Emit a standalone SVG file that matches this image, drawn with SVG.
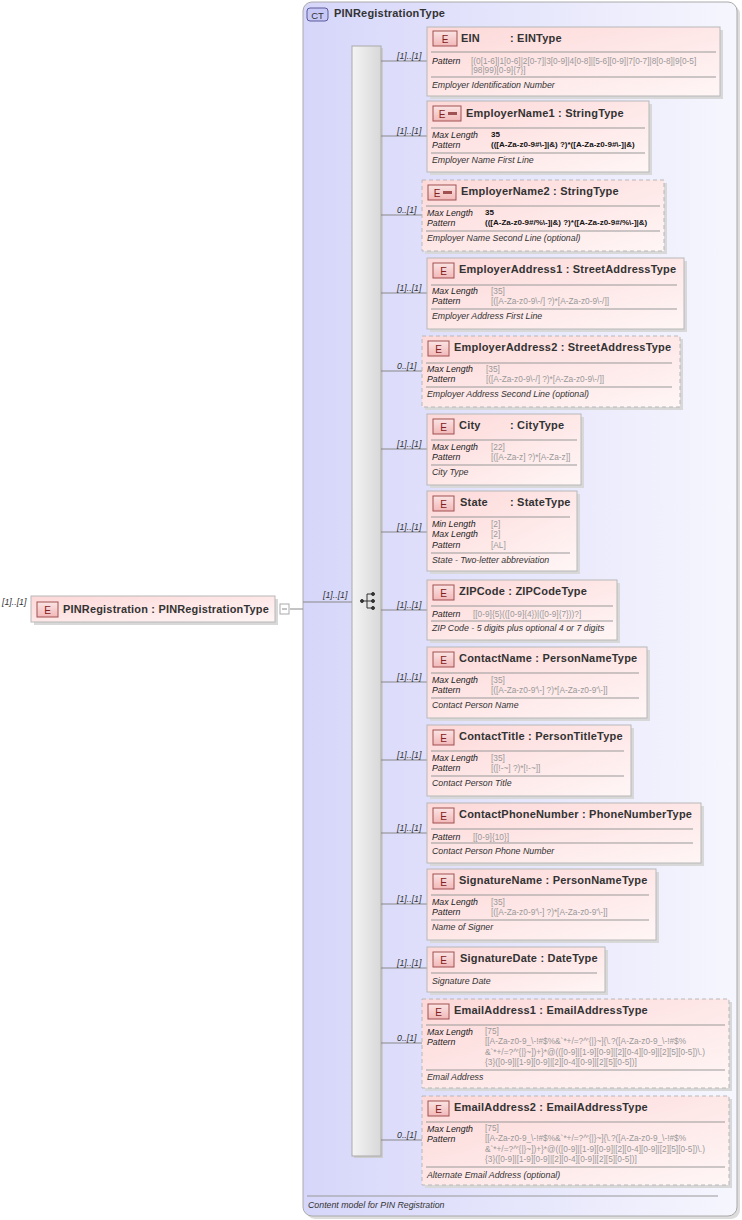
<svg xmlns="http://www.w3.org/2000/svg" width="742" height="1220" viewBox="0 0 742 1220">
<defs>
<linearGradient id="ct" x1="0" x2="1" y1="0" y2="0"><stop offset="0" stop-color="#d6d6fa"/><stop offset="1" stop-color="#f6f6fe"/></linearGradient>
<linearGradient id="el" x1="0" x2="1" y1="0" y2="1"><stop offset="0" stop-color="#fdd8d8"/><stop offset="1" stop-color="#fff6f6"/></linearGradient>
<linearGradient id="bar" x1="0" x2="1"><stop offset="0" stop-color="#f4f4f4"/><stop offset="1" stop-color="#d8d8d8"/></linearGradient>
<linearGradient id="bd" x1="0" x2="0" y1="0" y2="1"><stop offset="0" stop-color="#fbe4e4"/><stop offset="1" stop-color="#f2b8b8"/></linearGradient>
</defs>
<style>
text{font-family:"Liberation Sans",Arial,sans-serif}
.box{fill:url(#el);stroke:#b8b8b8;stroke-width:1}
.dash{stroke-dasharray:4,3}
.sh{fill:#d8d8d8}
.badge{fill:url(#bd);stroke:#a05050;stroke-width:1}
.bt{font-size:10px;fill:#802020;text-anchor:middle}
.t{font-size:11px;font-weight:bold;fill:#333;letter-spacing:0.2px}
.sep{stroke:#999;stroke-width:1}
.lb{font-size:8.8px;font-style:italic;fill:#222}
.v{font-size:8.3px;fill:#999}
.vb{font-size:8px;fill:#111;font-weight:bold}
.d{font-size:8.8px;font-style:italic;fill:#333}
.m{font-size:8.8px;font-style:italic;fill:#333}
.cn{stroke:#888;stroke-width:1;fill:none}
</style>
<g id="ct-PINRegistrationType">
<rect x="306" y="5" width="434" height="1214" rx="9" fill="#ddd"/>
<rect x="303" y="2" width="434" height="1214" rx="9" fill="url(#ct)" stroke="#aaa"/>
<rect x="307" y="8" width="21" height="13" rx="3" fill="#c8c8f6" stroke="#5a5a9a"/>
<text x="317.5" y="18.5" font-size="9.5" fill="#333" text-anchor="middle">CT</text>
<text x="334" y="17" class="t">PINRegistrationType</text>
<line x1="307" y1="1196" x2="718" y2="1196" class="sep"/>
<text x="308" y="1208" class="d">Content model for PIN Registration</text>
</g>
<g id="sequence">
<rect x="354" y="48" width="29" height="1110" fill="#ccc"/>
<rect x="352" y="46" width="29" height="1110" fill="url(#bar)" stroke="#aaa"/>
<g fill="#333" stroke="#333" stroke-width="1">
<circle cx="362" cy="601" r="1.5"/><line x1="362" y1="601" x2="367" y2="601"/>
<line x1="367" y1="594" x2="367" y2="608"/><line x1="367" y1="594" x2="372" y2="594"/><line x1="367" y1="601" x2="372" y2="601"/><line x1="367" y1="608" x2="372" y2="608"/>
<circle cx="373" cy="594" r="1.5"/><circle cx="373" cy="601" r="1.5"/><circle cx="373" cy="608" r="1.5"/>
</g>
</g>
<g id="connectors">
<path class="cn" d="M290 609H303M303 602H352"/>
<text x="323" y="598" class="m">[1]..[1]</text>
<path class="cn" d="M381 61H427M381 136H427M381 215H422M381 293H427M381 371H422M381 449H427M381 532H427M381 610H427M381 682H427M381 760H427M381 833H427M381 904H427M381 968H427M381 1043H422M381 1140H422"/>
<g class="m">
<text x="397" y="59">[1]..[1]</text><text x="397" y="134">[1]..[1]</text><text x="397" y="213">0..[1]</text>
<text x="397" y="291">[1]..[1]</text><text x="397" y="369">0..[1]</text><text x="397" y="447">[1]..[1]</text>
<text x="397" y="530">[1]..[1]</text><text x="397" y="608">[1]..[1]</text><text x="397" y="680">[1]..[1]</text>
<text x="397" y="758">[1]..[1]</text><text x="397" y="831">[1]..[1]</text><text x="397" y="902">[1]..[1]</text>
<text x="397" y="966">[1]..[1]</text><text x="397" y="1041">0..[1]</text><text x="397" y="1138">0..[1]</text>
</g>
</g>
<g id="PINRegistration">
<text x="2" y="605" class="m">[1]..[1]</text>
<rect x="34" y="599" width="244" height="26" class="sh"/>
<rect x="31" y="596" width="244" height="26" class="box"/>
<rect x="37" y="602" width="21" height="15" class="badge"/><text x="47.5" y="613.5" class="bt">E</text>
<text x="63" y="613" class="t" textLength="206" lengthAdjust="spacingAndGlyphs">PINRegistration : PINRegistrationType</text>
<rect x="280" y="604" width="9" height="10" fill="#fff" stroke="#aaa"/><line x1="282" y1="609" x2="287" y2="609" stroke="#888"/>
</g>
<g id="EIN">
<rect x="430" y="30" width="293" height="69" class="sh"/><rect x="427" y="27" width="293" height="69" class="box"/>
<rect x="433" y="31" width="24" height="15" class="badge"/><text x="445" y="42.5" class="bt">E</text>
<text x="461" y="42" class="t">EIN</text><text x="510" y="42" class="t">: EINType</text>
<line x1="431" y1="52" x2="716" y2="52" class="sep"/>
<text x="432" y="64" class="lb">Pattern</text>
<text x="471" y="64" class="v">[(0[1-6]|1[0-6]|2[0-7]|3[0-9]|4[0-8]|[5-6][0-9]|7[0-7]|8[0-8]|9[0-5]</text>
<text x="471" y="73" class="v">|98|99)[0-9]{7}]</text>
<line x1="431" y1="77" x2="716" y2="77" class="sep"/>
<text x="432" y="88" class="d">Employer Identification Number</text>
</g>
<g id="EmployerName1">
<rect x="430" y="104" width="222" height="71" class="sh"/><rect x="427" y="101" width="222" height="71" class="box"/>
<rect x="433" y="106" width="28" height="15" class="badge"/><text x="442" y="117.5" class="bt">E</text><rect x="448" y="112" width="9" height="3" fill="#a05050"/>
<text x="466" y="117" class="t">EmployerName1 : StringType</text>
<line x1="431" y1="128" x2="645" y2="128" class="sep"/>
<text x="432" y="138" class="lb">Max Length</text><text x="491" y="137" class="vb">35</text>
<text x="432" y="148" class="lb">Pattern</text><text x="491" y="147" class="vb">(([A-Za-z0-9#\-]|&amp;) ?)*([A-Za-z0-9#\-]|&amp;)</text>
<line x1="431" y1="153" x2="645" y2="153" class="sep"/>
<text x="432" y="163" class="d">Employer Name First Line</text>
</g>
<g id="EmployerName2">
<rect x="425" y="183" width="242" height="71" class="sh"/><rect x="422" y="180" width="242" height="71" class="box dash"/>
<rect x="428" y="185" width="28" height="15" class="badge"/><text x="437" y="196.5" class="bt">E</text><rect x="443" y="191" width="9" height="3" fill="#a05050"/>
<text x="461" y="195" class="t">EmployerName2 : StringType</text>
<line x1="426" y1="206" x2="660" y2="206" class="sep"/>
<text x="427" y="216" class="lb">Max Length</text><text x="485" y="215" class="vb">35</text>
<text x="427" y="226" class="lb">Pattern</text><text x="485" y="225" class="vb">(([A-Za-z0-9#/%\-]|&amp;) ?)*([A-Za-z0-9#/%\-]|&amp;)</text>
<line x1="426" y1="231" x2="660" y2="231" class="sep"/>
<text x="427" y="241" class="d">Employer Name Second Line (optional)</text>
</g>
<g id="EmployerAddress1">
<rect x="430" y="261" width="257" height="71" class="sh"/><rect x="427" y="258" width="257" height="71" class="box"/>
<rect x="433" y="263" width="21" height="15" class="badge"/><text x="443.5" y="274.5" class="bt">E</text>
<text x="459" y="273" class="t">EmployerAddress1 : StreetAddressType</text>
<line x1="431" y1="285" x2="677" y2="285" class="sep"/>
<text x="432" y="294" class="lb">Max Length</text><text x="491" y="294" class="v">[35]</text>
<text x="432" y="304" class="lb">Pattern</text><text x="491" y="304" class="v">[([A-Za-z0-9\-/] ?)*[A-Za-z0-9\-/]]</text>
<line x1="431" y1="309" x2="677" y2="309" class="sep"/>
<text x="432" y="319" class="d">Employer Address First Line</text>
</g>
<g id="EmployerAddress2">
<rect x="425" y="339" width="258" height="71" class="sh"/><rect x="422" y="336" width="258" height="71" class="box dash"/>
<rect x="428" y="341" width="21" height="15" class="badge"/><text x="438.5" y="352.5" class="bt">E</text>
<text x="454" y="351" class="t">EmployerAddress2 : StreetAddressType</text>
<line x1="426" y1="363" x2="672" y2="363" class="sep"/>
<text x="427" y="372" class="lb">Max Length</text><text x="486" y="372" class="v">[35]</text>
<text x="427" y="382" class="lb">Pattern</text><text x="486" y="382" class="v">[([A-Za-z0-9\-/] ?)*[A-Za-z0-9\-/]]</text>
<line x1="426" y1="387" x2="672" y2="387" class="sep"/>
<text x="427" y="397" class="d">Employer Address Second Line (optional)</text>
</g>
<g id="City">
<rect x="430" y="417" width="154" height="71" class="sh"/><rect x="427" y="414" width="154" height="71" class="box"/>
<rect x="433" y="419" width="21" height="15" class="badge"/><text x="443.5" y="430.5" class="bt">E</text>
<text x="459" y="429" class="t">City</text><text x="510" y="429" class="t">: CityType</text>
<line x1="431" y1="440" x2="577" y2="440" class="sep"/>
<text x="432" y="450" class="lb">Max Length</text><text x="491" y="450" class="v">[22]</text>
<text x="432" y="460" class="lb">Pattern</text><text x="491" y="460" class="v">[([A-Za-z] ?)*[A-Za-z]]</text>
<line x1="431" y1="465" x2="577" y2="465" class="sep"/>
<text x="432" y="475" class="d">City Type</text>
</g>
<g id="State">
<rect x="430" y="494" width="150" height="80" class="sh"/><rect x="427" y="491" width="150" height="80" class="box"/>
<rect x="433" y="496" width="21" height="15" class="badge"/><text x="443.5" y="507.5" class="bt">E</text>
<text x="460" y="506" class="t">State</text><text x="510" y="506" class="t">: StateType</text>
<line x1="431" y1="517" x2="570" y2="517" class="sep"/>
<text x="432" y="527" class="lb">Min Length</text><text x="491" y="527" class="v">[2]</text>
<text x="432" y="537" class="lb">Max Length</text><text x="491" y="537" class="v">[2]</text>
<text x="432" y="548" class="lb">Pattern</text><text x="491" y="548" class="v">[AL]</text>
<line x1="431" y1="553" x2="570" y2="553" class="sep"/>
<text x="432" y="563" class="d">State - Two-letter abbreviation</text>
</g>
<g id="ZIPCode">
<rect x="430" y="583" width="190" height="60" class="sh"/><rect x="427" y="580" width="190" height="60" class="box"/>
<rect x="433" y="585" width="21" height="15" class="badge"/><text x="443.5" y="596.5" class="bt">E</text>
<text x="459" y="595" class="t">ZIPCode : ZIPCodeType</text>
<line x1="431" y1="606" x2="613" y2="606" class="sep"/>
<text x="432" y="617" class="lb">Pattern</text><text x="473" y="617" class="v">[[0-9]{5}(([0-9]{4})|([0-9]{7}))?]</text>
<line x1="431" y1="621" x2="613" y2="621" class="sep"/>
<text x="432" y="631" class="d">ZIP Code - 5 digits plus optional 4 or 7 digits</text>
</g>
<g id="ContactName">
<rect x="430" y="650" width="220" height="71" class="sh"/><rect x="427" y="647" width="220" height="71" class="box"/>
<rect x="433" y="652" width="21" height="15" class="badge"/><text x="443.5" y="663.5" class="bt">E</text>
<text x="459" y="662" class="t">ContactName : PersonNameType</text>
<line x1="431" y1="673" x2="639" y2="673" class="sep"/>
<text x="432" y="683" class="lb">Max Length</text><text x="491" y="683" class="v">[35]</text>
<text x="432" y="693" class="lb">Pattern</text><text x="491" y="693" class="v">[([A-Za-z0-9'\-] ?)*[A-Za-z0-9'\-]]</text>
<line x1="431" y1="698" x2="639" y2="698" class="sep"/>
<text x="432" y="708" class="d">Contact Person Name</text>
</g>
<g id="ContactTitle">
<rect x="430" y="728" width="204" height="71" class="sh"/><rect x="427" y="725" width="204" height="71" class="box"/>
<rect x="433" y="730" width="21" height="15" class="badge"/><text x="443.5" y="741.5" class="bt">E</text>
<text x="459" y="740" class="t">ContactTitle : PersonTitleType</text>
<line x1="431" y1="751" x2="624" y2="751" class="sep"/>
<text x="432" y="761" class="lb">Max Length</text><text x="491" y="761" class="v">[35]</text>
<text x="432" y="771" class="lb">Pattern</text><text x="491" y="771" class="v">[([!-~] ?)*[!-~]]</text>
<line x1="431" y1="776" x2="624" y2="776" class="sep"/>
<text x="432" y="786" class="d">Contact Person Title</text>
</g>
<g id="ContactPhoneNumber">
<rect x="430" y="806" width="274" height="60" class="sh"/><rect x="427" y="803" width="274" height="60" class="box"/>
<rect x="433" y="808" width="21" height="15" class="badge"/><text x="443.5" y="819.5" class="bt">E</text>
<text x="459" y="818" class="t">ContactPhoneNumber : PhoneNumberType</text>
<line x1="431" y1="829" x2="693" y2="829" class="sep"/>
<text x="432" y="840" class="lb">Pattern</text><text x="473" y="840" class="v">[[0-9]{10}]</text>
<line x1="431" y1="843" x2="693" y2="843" class="sep"/>
<text x="432" y="854" class="d">Contact Person Phone Number</text>
</g>
<g id="SignatureName">
<rect x="430" y="872" width="229" height="71" class="sh"/><rect x="427" y="869" width="229" height="71" class="box"/>
<rect x="433" y="874" width="21" height="15" class="badge"/><text x="443.5" y="885.5" class="bt">E</text>
<text x="459" y="884" class="t">SignatureName : PersonNameType</text>
<line x1="431" y1="895" x2="649" y2="895" class="sep"/>
<text x="432" y="905" class="lb">Max Length</text><text x="491" y="905" class="v">[35]</text>
<text x="432" y="915" class="lb">Pattern</text><text x="491" y="915" class="v">[([A-Za-z0-9'\-] ?)*[A-Za-z0-9'\-]]</text>
<line x1="431" y1="920" x2="649" y2="920" class="sep"/>
<text x="432" y="930" class="d">Name of Signer</text>
</g>
<g id="SignatureDate">
<rect x="430" y="950" width="178" height="45" class="sh"/><rect x="427" y="947" width="178" height="45" class="box"/>
<rect x="433" y="952" width="21" height="15" class="badge"/><text x="443.5" y="963.5" class="bt">E</text>
<text x="460" y="962" class="t">SignatureDate : DateType</text>
<line x1="431" y1="973" x2="597" y2="973" class="sep"/>
<text x="432" y="984" class="d">Signature Date</text>
</g>
<g id="EmailAddress1">
<rect x="425" y="1002" width="307" height="89" class="sh"/><rect x="422" y="999" width="307" height="89" class="box dash"/>
<rect x="428" y="1004" width="21" height="15" class="badge"/><text x="438.5" y="1015.5" class="bt">E</text>
<text x="454" y="1014" class="t">EmailAddress1 : EmailAddressType</text>
<line x1="426" y1="1025" x2="725" y2="1025" class="sep"/>
<text x="427" y="1035" class="lb">Max Length</text><text x="485" y="1034" class="v">[75]</text>
<text x="427" y="1045" class="lb">Pattern</text>
<text x="485" y="1044" class="v">[[A-Za-z0-9_\-!#$%&amp;`*+/=?^'{|}~]{\.?([A-Za-z0-9_\-!#$%</text>
<text x="485" y="1055" class="v">&amp;`*+/=?^'{|}~])+}*@(([0-9]|[1-9][0-9]|[2][0-4][0-9]|[2][5][0-5])\.)</text>
<text x="485" y="1065" class="v">{3}([0-9]|[1-9][0-9]|[2][0-4][0-9]|[2][5][0-5])]</text>
<line x1="426" y1="1070" x2="725" y2="1070" class="sep"/>
<text x="427" y="1080" class="d">Email Address</text>
</g>
<g id="EmailAddress2">
<rect x="425" y="1099" width="307" height="89" class="sh"/><rect x="422" y="1096" width="307" height="89" class="box dash"/>
<rect x="428" y="1101" width="21" height="15" class="badge"/><text x="438.5" y="1112.5" class="bt">E</text>
<text x="454" y="1111" class="t">EmailAddress2 : EmailAddressType</text>
<line x1="426" y1="1122" x2="725" y2="1122" class="sep"/>
<text x="427" y="1132" class="lb">Max Length</text><text x="485" y="1131" class="v">[75]</text>
<text x="427" y="1142" class="lb">Pattern</text>
<text x="485" y="1141" class="v">[[A-Za-z0-9_\-!#$%&amp;`*+/=?^'{|}~]{\.?([A-Za-z0-9_\-!#$%</text>
<text x="485" y="1152" class="v">&amp;`*+/=?^'{|}~])+}*@(([0-9]|[1-9][0-9]|[2][0-4][0-9]|[2][5][0-5])\.)</text>
<text x="485" y="1162" class="v">{3}([0-9]|[1-9][0-9]|[2][0-4][0-9]|[2][5][0-5])]</text>
<line x1="426" y1="1167" x2="725" y2="1167" class="sep"/>
<text x="427" y="1178" class="d">Alternate Email Address (optional)</text>
</g>
</svg>
